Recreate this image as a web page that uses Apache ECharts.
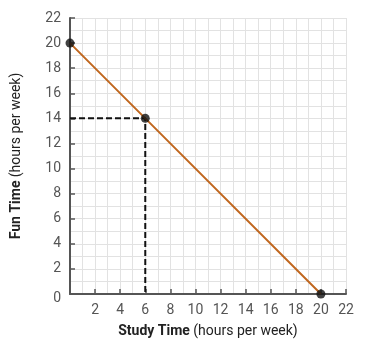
<!DOCTYPE html>
<html><head><meta charset="utf-8">
<script src="https://cdn.jsdelivr.net/npm/echarts@6/dist/echarts.min.js"></script>
<style>html,body{margin:0;padding:0;background:#fff}#c{width:375px;height:355px}</style>
</head><body><div id="c"></div>
<script>
const studyTime = [0, 6, 20];
const funTime = [20, 14, 0];
const guideX = [0, 6, 6];
const guideY = [14, 14, 0];
const xTicks = [0, 2, 4, 6, 8, 10, 12, 14, 16, 18, 20, 22];
const yTicks = [0, 2, 4, 6, 8, 10, 12, 14, 16, 18, 20, 22];

const chart = echarts.init(document.getElementById('c'));
const font = 'Roboto, sans-serif';
const rich = {b: {fontWeight: 'bold', fontSize: 14, color: '#222', fontFamily: font}, n: {fontSize: 14, color: '#222', fontFamily: font}};
chart.setOption({
  animation: false,
  grid: {left: 70, right: 29, top: 18, bottom: 61},
  xAxis: {
    type: 'value', min: xTicks[0], max: xTicks[xTicks.length-1], interval: 2,
    name: '{b|Study Time} {n|(hours per week)}', nameLocation: 'middle', nameGap: 30,
    nameTextStyle: {rich},
    axisLine: {show: true, lineStyle: {color: '#555', width: 2}},
    axisTick: {show: true, inside: true, length: 5, lineStyle: {color: '#555', width: 1.5}},
    axisLabel: {color: '#555', fontSize: 14, fontFamily: font, margin: 9, formatter: v => v === 0 ? '' : v},
    splitLine: {show: true, lineStyle: {color: '#e2e2e2', width: 1}},
    minorTick: {show: false, splitNumber: 2},
    minorSplitLine: {show: true, lineStyle: {color: '#e2e2e2', width: 1}}
  },
  yAxis: {
    type: 'value', min: yTicks[0], max: yTicks[yTicks.length-1], interval: 2,
    name: '{b|Fun Time} {n|(hours per week)}', nameLocation: 'middle', nameGap: 47, nameRotate: 90,
    nameTextStyle: {rich},
    axisLine: {show: true, lineStyle: {color: '#555', width: 2}},
    axisTick: {show: true, inside: true, length: 5, lineStyle: {color: '#555', width: 1.5}},
    axisLabel: {color: '#555', fontSize: 14, fontFamily: font, margin: 9,
      formatter: v => v === 0 ? '{z|0}' : String(v),
      rich: {z: {fontSize: 14, color: '#555', fontFamily: font, padding: [8, 0, 0, 0]}}},
    splitLine: {show: true, lineStyle: {color: '#e2e2e2', width: 1}},
    minorTick: {show: false, splitNumber: 2},
    minorSplitLine: {show: true, lineStyle: {color: '#e2e2e2', width: 1}}
  },
  series: [
    {
      type: 'line', data: guideX.map((x, i) => [x, guideY[i]]),
      symbol: 'none', lineStyle: {color: '#111', width: 2, type: [6, 3]}, z: 3
    },
    {
      type: 'line', data: studyTime.map((x, i) => [x, funTime[i]]),
      symbol: 'none', lineStyle: {color: '#c0671f', width: 2}, z: 4
    },
    {
      type: 'scatter', data: studyTime.map((x, i) => [x, funTime[i]]),
      symbolSize: 9, itemStyle: {color: '#111'}, z: 5
    }
  ]
});
</script></body></html>
